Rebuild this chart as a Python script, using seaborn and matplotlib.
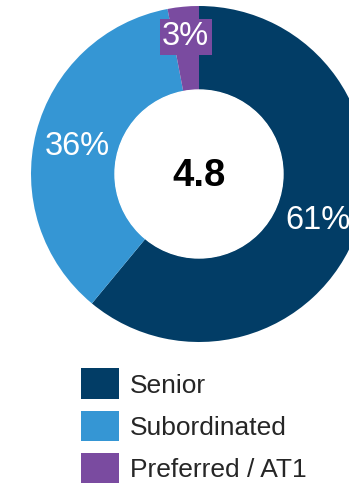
import matplotlib
matplotlib.use("Agg")
import matplotlib.pyplot as plt
from matplotlib.patches import Patch
import numpy as np
import seaborn as sns

# Capital structure breakdown
categories = ["Senior", "Subordinated", "Preferred / AT1"]
shares = [61, 36, 3]
pct_labels = ["61%", "36%", "3%"]
center_value = "4.8"
colors = ["#023d66", "#3596d4", "#7a4ba0"]

sns.set_theme(style="white")
plt.rcParams["font.family"] = ["Liberation Sans", "DejaVu Sans"]

W, H = 349, 484
fig = plt.figure(figsize=(W / 100, H / 100), dpi=100)
ax = fig.add_axes([0, 0, 1, 1])

# ring geometry in pixels
cx, cy, r_out = 199, 174, 168
r_in = 84 / r_out

wedges, _ = ax.pie(shares, colors=colors, startangle=90, counterclock=False,
                   radius=1, wedgeprops=dict(width=1 - r_in, linewidth=0))

ax.add_patch(plt.Circle((0, 0), r_in, color="white", zorder=3))
ax.text(0, -0.01, center_value, ha="center", va="center", fontsize=27.5,
        fontweight="bold", color="black", zorder=4)

# percentage labels at the middle of each wedge
total = sum(shares)
cum = np.cumsum([0] + shares[:-1])
label_r = [(1 + r_in) / 2, (1 + r_in) / 2, 0.84]
for i, (c, s, lab) in enumerate(zip(cum, shares, pct_labels)):
    mid = np.deg2rad(90 - 360 * (c + s / 2) / total)
    x, y = label_r[i] * np.cos(mid), label_r[i] * np.sin(mid)
    kw = {}
    if i == 2:
        kw["bbox"] = dict(boxstyle="square,pad=0.08", facecolor=colors[2],
                          edgecolor="none")
    ax.text(x, y - 0.02, lab, ha="center", va="center", fontsize=23.5,
            color="white", zorder=5, **kw)

ax.set_xlim(-cx / r_out, (W - cx) / r_out)
ax.set_ylim(-(H - cy) / r_out, cy / r_out)
ax.set_aspect("auto")
ax.axis("off")

handles = [Patch(facecolor=c, edgecolor="none") for c in colors]
fig.legend(handles, categories, loc="upper left",
           bbox_to_anchor=(81 / W, 1 - 368.5 / H), bbox_transform=fig.transFigure,
           frameon=False, fontsize=19, handlelength=1.43, handleheight=1.4,
           handletextpad=0.42, labelspacing=0.44, borderpad=0,
           borderaxespad=0)

fig.savefig("out.png", dpi=100)
